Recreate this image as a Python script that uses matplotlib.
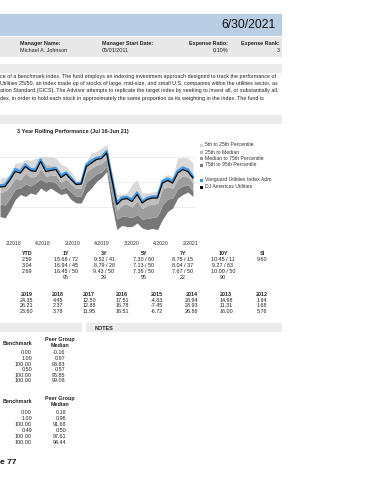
import numpy as np
import matplotlib
matplotlib.use("Agg")
import matplotlib.pyplot as plt
from matplotlib.patches import Rectangle

plt.rcParams['font.family'] = ['Liberation Sans', 'DejaVu Sans']

W, H = 370, 480

# ---------- data ----------
fund = [9.3, 9.5, 10.9, 12.6, 12.2, 13.5, 12.6, 12.4, 14.5, 12.5,
        12.6, 12.8, 11.3, 11.9, 10.8, 9.7, 9.8, 13.5, 14.3, 14.8,
        15.0, 16.2, 11.0, 5.8, 6.9, 7.0, 6.5, 7.9, 6.1, 6.8,
        7.1, 7.1, 10.2, 10.7, 10.2, 12.2, 12.9, 12.5, 11.1]
bench = [9.0, 9.1, 10.5, 12.1, 11.8, 13.1, 12.3, 12.1, 14.1, 12.1,
         12.3, 12.5, 10.9, 11.6, 10.5, 9.5, 9.6, 13.1, 13.8, 14.5,
         14.7, 15.8, 10.7, 5.5, 6.5, 6.7, 6.1, 7.5, 5.8, 6.5,
         6.8, 6.8, 9.8, 10.3, 9.8, 11.8, 12.5, 12.1, 10.8]
p5 = [10.8, 10.9, 11.5, 13.8, 13.8, 14.5, 14.3, 14.7, 15.1, 15.1,
      15.1, 14.8, 13.5, 13.1, 12.1, 10.1, 10.3, 14.1, 15.8, 16.1,
      16.8, 17.5, 12.1, 7.5, 7.6, 7.8, 9.5, 10.5, 7.8, 7.8,
      8.0, 8.1, 10.8, 11.5, 11.1, 14.8, 14.9, 14.8, 13.8]
p25 = [9.6, 9.7, 10.9, 12.8, 12.5, 13.7, 13.0, 13.1, 14.7, 13.6,
       13.4, 13.2, 11.8, 12.2, 11.0, 9.8, 9.9, 13.7, 14.6, 15.2,
       15.4, 16.4, 11.2, 6.2, 7.1, 7.2, 6.9, 8.2, 6.5, 7.0,
       7.3, 7.3, 10.3, 10.9, 10.4, 12.5, 13.1, 12.9, 11.6]
p50 = [8.0, 8.1, 9.2, 10.8, 10.4, 11.8, 11.0, 11.1, 12.7, 11.2,
       11.3, 11.4, 9.9, 10.6, 9.6, 8.7, 8.8, 12.1, 12.8, 13.4,
       13.7, 14.7, 9.6, 4.4, 5.4, 5.6, 5.0, 6.3, 4.7, 5.3,
       5.6, 5.7, 8.6, 9.1, 8.7, 10.6, 11.2, 11.0, 9.8]
p75 = [5.6, 5.4, 6.8, 8.6, 8.8, 9.6, 9.2, 9.8, 10.6, 10.0,
       10.2, 9.8, 8.6, 9.0, 8.0, 7.1, 7.2, 10.0, 10.8, 11.6,
       12.0, 13.1, 7.6, 2.6, 3.2, 3.1, 2.9, 3.5, 2.6, 2.7,
       2.9, 3.1, 5.4, 6.6, 6.8, 8.6, 9.2, 9.4, 8.2]
p95 = [3.1, 2.8, 4.5, 6.5, 7.5, 7.1, 7.8, 7.5, 8.8, 8.1,
       8.8, 8.1, 7.5, 7.8, 6.5, 5.8, 5.8, 7.8, 8.8, 10.1,
       10.9, 12.1, 5.5, 0.5, 1.3, 1.1, 1.1, 1.8, 0.8, 0.5,
       0.7, 0.5, 2.5, 4.1, 4.8, 6.8, 7.5, 8.0, 7.1]
xlabels = ["2/2018", "4/2018", "2/2019", "4/2019", "3/2020", "4/2020", "2/2021"]

legend_labels = ["5th to 25th Percentile", "25th to Median", "Median to 75th Percentile",
                 "75th to 95th Percentile", "Vanguard Utilities Index Adm", "DJ Americas Utilities"]

period_heads = ["YTD", "1Y", "3Y", "5Y", "7Y", "10Y", "SI"]
period_rows = [
    ["2.59", "15.68 / 72", "9.52 / 41", "7.30 / 60", "8.75 / 15", "10.45 / 11", "9.60"],
    ["3.04", "16.94 / 45", "8.79 / 28", "7.13 / 50", "8.04 / 37", "9.27 / 63", ""],
    ["2.69", "16.45 / 50", "9.43 / 50", "7.36 / 50", "7.67 / 50", "10.00 / 50", ""],
    ["", "95", "29", "55", "22", "90", ""],
]
year_heads = ["2019", "2018", "2017", "2016", "2015", "2014", "2013", "2012"]
year_rows = [
    ["24.35", "4.45", "12.50", "17.51", "-4.83", "28.94", "14.98", "1.94"],
    ["26.21", "2.37", "12.88", "16.78", "-7.45", "28.93", "11.31", "1.68"],
    ["23.60", "3.78", "11.95", "16.51", "-6.72", "26.86", "16.00", "5.76"],
]
bench_a = ["0.00", "1.00", "100.00", "0.50", "100.00", "100.00"]
peer_a = ["-0.16", "0.97", "93.83", "0.57", "95.85", "99.08"]
bench_b = ["0.00", "1.00", "100.00", "0.49", "100.00", "100.00"]
peer_b = ["0.18", "0.96", "91.68", "0.50", "97.61", "94.44"]

description = [
    "ce of a benchmark index. The fund employs an indexing investment approach designed to track the performance of",
    "Utilities 25/50, an index made up of stocks of large, mid-size, and small U.S. companies within the utilities sector, as",
    "ation Standard (GICS). The Advisor attempts to replicate the target index by seeking to invest all, or substantially all,",
    "dex, in order to hold each stock in approximately the same proportion as its weighting in the index. The fund is",
]


def fx(x):
    return x / W


def fy(y):
    return 1 - y / H


def band(fig, x0, y0, x1, y1, color):
    fig.add_artist(Rectangle((fx(x0), fy(y1)), (x1 - x0) / W, (y1 - y0) / H,
                             transform=fig.transFigure, color=color, lw=0, zorder=0))


def txt(fig, x, y, s, size=3.9, ha="left", bold=False, color="#222222"):
    fig.text(fx(x), fy(y), s, fontsize=size, ha=ha, va="center",
             fontweight="bold" if bold else "normal", color=color)


fig = plt.figure(figsize=(3.7, 4.8), dpi=100)

# ---------- header ----------
band(fig, 0, 13.5, 282, 36, "#b9cde5")
txt(fig, 276, 25.5, "6/30/2021", size=8.8, ha="right", color="#111111")
band(fig, 0, 37, 282, 57, "#e8e8e8")
txt(fig, 20, 43, "Manager Name:", bold=True)
txt(fig, 20, 50, "Michael A. Johnson")
txt(fig, 102, 43, "Manager Start Date:", bold=True)
txt(fig, 102, 50, "05/01/2011")
txt(fig, 228, 43, "Expense Ratio:", ha="right", bold=True)
txt(fig, 228, 50, "0.10%", ha="right")
txt(fig, 280, 43, "Expense Rank:", ha="right", bold=True)
txt(fig, 280, 50, "3", ha="right")

band(fig, 0, 64, 282, 73, "#ebebeb")
for i, line in enumerate(description):
    txt(fig, 0, 76.5 + 7.2 * i, line, size=3.9)

band(fig, 0, 115, 282, 124, "#ebebeb")
txt(fig, 17, 131.5, "3 Year Rolling Performance (Jul 16-Jun 21)", size=4.0, bold=True)

# ---------- chart ----------
x = np.arange(len(bench))
ax = fig.add_axes([0, fy(232), 196 / W, (232 - 134) / H])
ax.set_xlim(0, 38.6)
ax.set_ylim(0, 19.6)
for s in ax.spines.values():
    s.set_visible(False)
ax.set_yticks([5, 10, 15])
ax.yaxis.grid(True, color="#e6e6e6", lw=0.5)
ax.set_axisbelow(True)
ax.tick_params(length=0, labelleft=False)

shades = ["#d9d9d9", "#bdbdbd", "#9d9d9d", "#777777"]
ax.fill_between(x, p95, p75, color=shades[3], lw=0)
ax.fill_between(x, p75, p50, color=shades[2], lw=0)
ax.fill_between(x, p50, p25, color=shades[1], lw=0)
ax.fill_between(x, p25, p5, color=shades[0], lw=0)
ax.plot(x, fund, color="#3d9be9", lw=1.7)
ax.plot(x, bench, color="black", lw=0.9)

ax.set_xticks(np.arange(2.6, 38.5, 5.83))
ax.set_xticklabels(xlabels, fontsize=3.7, color="#333333")
ax.tick_params(axis="x", pad=6.5)

# legend
leg_y = [145, 152, 158.5, 165, 180, 187]
leg_c = shades + ["#3d9be9", "black"]
for yy, c, lab in zip(leg_y, leg_c, legend_labels):
    fig.add_artist(Rectangle((fx(199.5), fy(yy + 1.5)), 3 / W, 3 / H,
                             transform=fig.transFigure, color=c, lw=0))
    txt(fig, 205, yy, lab, size=3.7, color="#333333")

# ---------- trailing returns ----------
pcols = [27, 66, 104, 144, 183, 223, 262]
for cx, h in zip(pcols, period_heads):
    txt(fig, cx, 253.5, h, ha="center", bold=True)
for r, row in enumerate(period_rows):
    for cx, v in zip(pcols, row):
        txt(fig, cx, 259.5 + 6.1 * r, v, ha="center")

ycols = [27, 58, 89, 122, 157, 192, 226, 262]
for cx, h in zip(ycols, year_heads):
    txt(fig, cx, 294, h, ha="center", bold=True)
for r, row in enumerate(year_rows):
    for cx, v in zip(ycols, row):
        txt(fig, cx, 300 + 5.6 * r, v, ha="center")

# ---------- risk tables ----------
band(fig, 0, 323, 82, 332, "#ebebeb")
band(fig, 86, 323, 282, 332, "#ebebeb")
txt(fig, 95, 328, "NOTES", bold=True)

txt(fig, 32, 343.5, "Benchmark", ha="right", bold=True)
txt(fig, 60, 340, "Peer Group", ha="center", bold=True)
txt(fig, 60, 345.5, "Median", ha="center", bold=True)
for i, (b, p) in enumerate(zip(bench_a, peer_a)):
    txt(fig, 32, 353 + 5.6 * i, b, ha="right")
    txt(fig, 65, 353 + 5.6 * i, p, ha="right")

txt(fig, 32, 401.5, "Benchmark", ha="right", bold=True)
txt(fig, 60, 398.5, "Peer Group", ha="center", bold=True)
txt(fig, 60, 404.5, "Median", ha="center", bold=True)
for i, (b, p) in enumerate(zip(bench_b, peer_b)):
    txt(fig, 32, 412 + 6.0 * i, b, ha="right")
    txt(fig, 66, 412 + 6.0 * i, p, ha="right")

txt(fig, 0, 462, "e 77", size=6, bold=True, color="#111111")

fig.savefig("out.png", dpi=100)
